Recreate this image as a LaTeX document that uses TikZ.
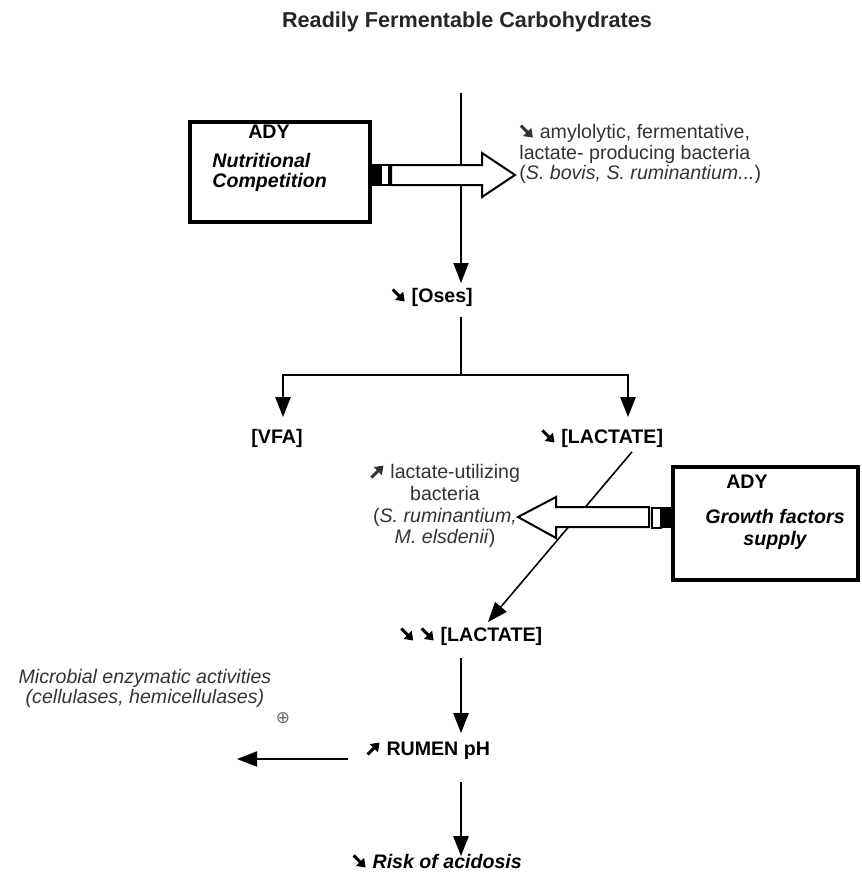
\documentclass[tikz,border=0pt]{standalone}
\usepackage{fontspec}
\setmainfont{Liberation Sans}
\newfontfamily\arrowfont{DejaVu Sans}
\usetikzlibrary{arrows.meta,calc,positioning}
\newcommand{\arrdown}{\tikz[baseline=0pt]\draw[line width=1.5pt,-{Triangle[width=5.5pt,length=4pt]}] (0pt,6.5pt) -- (6pt,0.5pt);}
\newcommand{\arrup}{\tikz[baseline=0pt]\draw[line width=1.5pt,-{Triangle[width=5.5pt,length=4pt]}] (0pt,0.5pt) -- (6pt,6.5pt);}

\begin{document}
\begin{tikzpicture}[x=0.5pt, y=-0.5pt,
    >={Triangle[width=7.5pt,length=10pt]},
    lbl/.style={inner sep=2pt, text height=7.5pt, text depth=2pt, font=\fontsize{9.8}{10.3}\selectfont\bfseries},
    note/.style={inner sep=2pt, text=black!80, font=\fontsize{9.8}{10.3}\selectfont},
    adybox/.style={draw, line width=2pt, minimum width=90pt, minimum height=50pt},
    thinflow/.style={line width=0.8pt},
    thickflow/.style={line width=1.25pt},
    blockarrow/.style={draw, fill=white, line width=1pt, line join=miter}]
    \useasboundingbox (0,0) rectangle (862,873);

    % Title and feed line
    \node[font=\fontsize{10.8}{12}\selectfont\bfseries, text=black!85] (title) at (467,22) {Readily Fermentable Carbohydrates};
    \coordinate (feed) at (461,93);

    % Main chain
    \node[lbl] (oses) at (432,297) {\arrdown\ [Oses]};
    \node[lbl] (vfa) at (277,438) {[VFA]};
    \node[lbl] (lactone) at (602,438) {\arrdown\ [LACTATE]};
    \node[lbl] (lacttwo) at (471,636) {\arrdown\ \arrdown\ [LACTATE]};
    \node[lbl] (rumen) at (428,750) {\arrup\ RUMEN pH};
    \node[lbl] (risk) at (437,863) {\arrdown\ \textit{Risk of acidosis}};

    % ADY boxes
    \node[adybox] (adyone) at (280,172) {};
    \node[lbl] (adyonetitle) at (269,133) {ADY};
    \node[note, text=black, font=\fontsize{9.8}{10}\selectfont\bfseries\itshape, align=left, anchor=west] (adyonetext) at (208,172) {Nutritional\\Competition};

    \node[adybox, minimum width=92.5pt, minimum height=56.5pt] (adytwo) at (765.5,523.5) {};
    \node[lbl] (adytwotitle) at (747,483) {ADY};
    \node[note, text=black, font=\fontsize{9.8}{11}\selectfont\bfseries\itshape, align=center] (adytwotext) at (775,529) {Growth factors\\supply};

    % Bacteria and side notes
    \node[note, anchor=west, align=left] (amylo) at (515,154) {\arrdown\ amylolytic, fermentative,\\lactate- producing bacteria\\(\textit{S. bovis, S. ruminantium...})};
    \node[note, align=center, font=\fontsize{9.8}{10.9}\selectfont] (lutil) at (445,506) {\arrup\ lactate-utilizing\\bacteria\\(\textit{S. ruminantium,}\\\textit{M. elsdenii})};
    \node[note, align=center, font=\fontsize{9.8}{10}\selectfont\itshape] (enzyme) at (145,688) {Microbial enzymatic activities\\(cellulases, hemicellulases)};
    \node[inner sep=0pt, text=black!60, font={\arrowfont\fontsize{8.5}{8.5}\selectfont}] (plus) at (283,718) {⊕};
    \coordinate (split) at (461,375);
    \coordinate (enzarrow) at (237,759);

    % Connectors
    \draw[thinflow, ->] (feed) -- (oses.north -| feed);
    \draw[thickflow, shorten <=3pt] (oses.south -| feed) -- (split);
    \draw[thickflow, ->] (split) -| ($(vfa.north)+(6,-7)$);
    \draw[thickflow, ->] (split) -| ($(lactone.north)+(26,-7)$);
    \draw[thinflow, ->] ($(lactone.south)+(30,0)$) -- ($(lacttwo.north)+(17,0)$);
    \draw[thickflow, ->, shorten <=4pt, shorten >=1.5pt] (lacttwo.south -| feed) -- (rumen.north -| feed);
    \draw[thickflow, ->, shorten <=9pt, shorten >=-3.5pt] (rumen.south -| feed) -- (risk.north -| feed);
    \draw[line width=1pt, ->] ($(rumen.west)+(-14,9)$) -- (enzarrow);

    % Block arrow from nutritional competition
    \begin{scope}[shift={(adyone.east)}]
        \fill (0,-8) rectangle (9,14);
        \draw[line width=1pt, fill=white] (9,-7) rectangle (17,13);
        \draw[blockarrow] (19,-7) -- (110,-7) -- (110,-19) -- (143,3) -- (110,25) -- (110,13) -- (19,13) -- cycle;
    \end{scope}

    % Block arrow from growth factors supply
    \begin{scope}[shift={(adytwo.west)}]
        \fill (0,-16.5) rectangle (-10,4.5);
        \draw[line width=1pt, fill=white] (-10,-16) rectangle (-19,4);
        \draw[blockarrow] (-22,-16.5) -- (-115,-16.5) -- (-115,-26.5) -- (-153,-6.5) -- (-115,14.5) -- (-115,3.5) -- (-22,3.5) -- cycle;
    \end{scope}
\end{tikzpicture}
\end{document}
